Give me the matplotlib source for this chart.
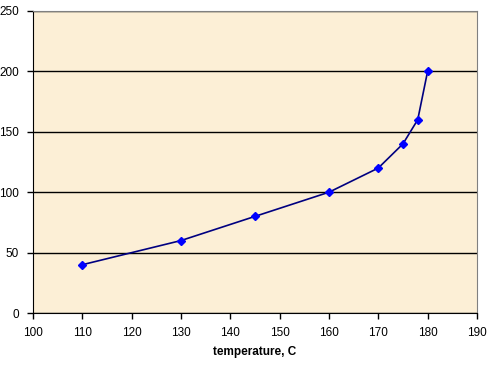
import matplotlib.pyplot as plt

# data
temperature = [110, 130, 145, 160, 170, 175, 178, 180]
values = [40, 60, 80, 100, 120, 140, 160, 200]

plt.rcParams['font.family'] = ['Liberation Sans', 'DejaVu Sans']

fig = plt.figure(figsize=(4.9, 3.79), dpi=100)
ax = fig.add_axes([0.0673, 0.174, 0.906, 0.797])
ax.set_facecolor('#FCEFD6')

ax.plot(temperature, values, color='#000080', lw=1.2, zorder=3)
ax.plot(temperature, values, ls='none', marker='D', ms=4.5,
        color='#0000FF', zorder=4)

ax.set_xlim(100, 190)
ax.set_ylim(0, 250)
ax.set_xticks(range(100, 191, 10))
ax.set_yticks(range(0, 251, 50))
ax.yaxis.grid(True, color='black', lw=1)
ax.set_axisbelow(True)

for s in ['top', 'right']:
    ax.spines[s].set_color('#808080')
for s in ['left', 'bottom']:
    ax.spines[s].set_color('black')

ax.tick_params(labelsize=8.5, length=4, width=1, direction='out', pad=6)
ax.set_xlabel('temperature, C', fontsize=8.5, fontweight='bold', labelpad=5)

fig.savefig('out.png', dpi=100)
